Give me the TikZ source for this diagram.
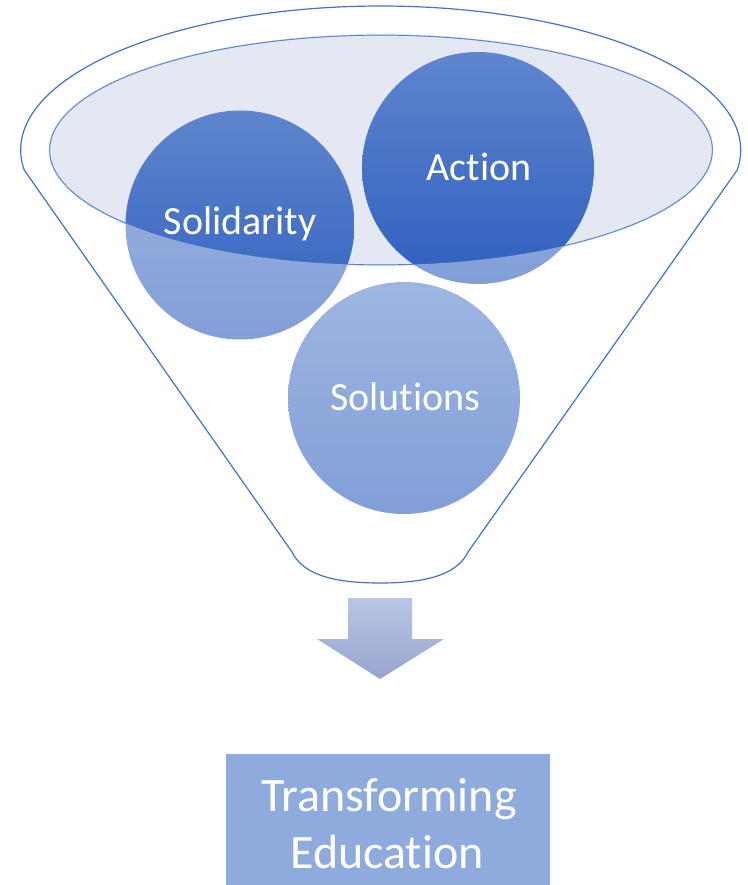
\documentclass[tikz,border=0pt]{standalone}
\usepackage{fontspec}
\setmainfont{Carlito}[Ligatures={NoCommon,NoContextual}]
\definecolor{fline}{HTML}{4472C4}
\definecolor{ellfill}{HTML}{E4E8F3}
\definecolor{ctop}{HTML}{5F85CD}
\definecolor{cbot}{HTML}{2F5FBF}
\definecolor{arrtop}{HTML}{B9C5E5}
\definecolor{arrbot}{HTML}{97A5CF}
\definecolor{boxfill}{HTML}{8FAADC}
\tikzset{
  circ/.style={circle, inner sep=0pt, draw=none, top color=ctop, bottom color=cbot, minimum size=#1},
  circlabel/.style={anchor=base, text=white, inner sep=0pt, font=\fontsize{40}{46}\selectfont},
  boxlabel/.style={anchor=base, text=white, inner sep=0pt, font=\fontsize{48}{57}\selectfont},
  funnelline/.style={draw=fline, line width=1.2pt},
}
\begin{document}
\begin{tikzpicture}[x=1pt,y=-1pt]
\useasboundingbox (0,0) rectangle (747,885);
% inner opening of the funnel
\draw[funnelline, fill=ellfill] (381,150) ellipse [x radius=331.5, y radius=115];
% circles
\node[circ=229pt] (sol) at (240,225) {};
\node[circ=232pt] (act) at (478,168) {};
\node[circ=232pt] (solu) at (404,398) {};
% translucent funnel body
\fill[white, fill opacity=0.4, even odd rule]
  (24.2,170) arc[start angle=172.02, end angle=367.98, x radius=360, y radius=144]
  -- (468,552) .. controls (456,577) and (420,583) .. (380,583)
  .. controls (340,583) and (304,577) .. (292,552) -- cycle
  (381,150) ellipse [x radius=331.5, y radius=115];
% funnel outline
\draw[funnelline]
  (24.2,170) arc[start angle=172.02, end angle=367.98, x radius=360, y radius=144]
  -- (468,552) .. controls (456,577) and (420,583) .. (380,583)
  .. controls (340,583) and (304,577) .. (292,552) -- cycle;
% labels
\node[circlabel] (tsol) at (240,235) {Solidarity};
\node[circlabel] (tact) at (479,181) {Action};
\node[circlabel] (tsolu) at (405,410) {Solutions};
% arrow
\shade[top color=arrtop, bottom color=arrbot]
  (348,598) -- (412,598) -- (412,639) -- (444,639) -- (380,679) -- (317,639) -- (348,639) -- cycle;
% result box
\node[fill=boxfill, minimum width=324pt, minimum height=131pt, inner sep=0pt] (box) at (388,819.5) {};
\node[boxlabel] (t1) at (389,811) {Transforming};
\node[boxlabel] (t2) at (387,868) {Education};
\end{tikzpicture}
\end{document}
